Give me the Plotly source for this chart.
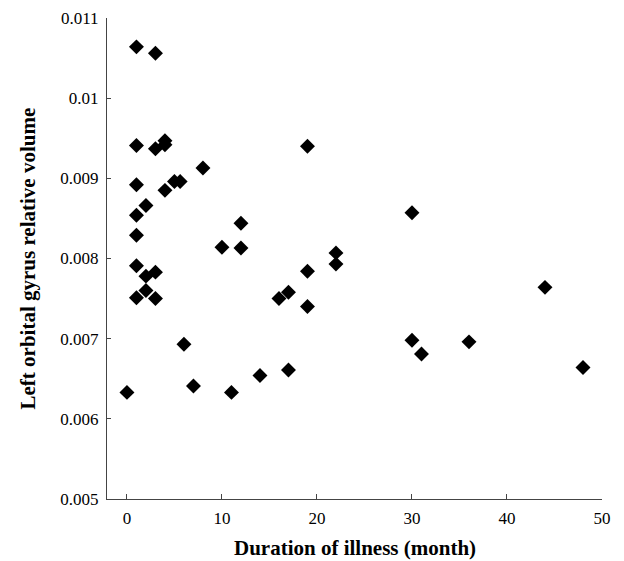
import plotly.graph_objects as go

duration = [1, 3, 1, 3, 4, 4, 1, 4, 5, 5.6, 8, 2, 1, 1, 1, 2, 3, 2, 1, 3,
            10, 12, 12, 6, 7, 0, 11, 14, 19, 30, 22, 22, 19, 17, 16, 19,
            30, 31, 17, 44, 36, 48]
volume = [0.01064, 0.01056, 0.00941, 0.00937, 0.00947, 0.00942, 0.00892,
          0.00885, 0.00896, 0.00896, 0.00913, 0.00866, 0.00854, 0.00829,
          0.00791, 0.00778, 0.00783, 0.00760, 0.00751, 0.00750, 0.00814,
          0.00844, 0.00813, 0.00693, 0.00641, 0.00633, 0.00633, 0.00654,
          0.00940, 0.00857, 0.00807, 0.00793, 0.00784, 0.00758, 0.00750,
          0.00740, 0.00698, 0.00681, 0.00661, 0.00764, 0.00696, 0.00664]

x_ticks = [0, 10, 20, 30, 40, 50]
y_ticks = [0.005, 0.006, 0.007, 0.008, 0.009, 0.01, 0.011]
y_tick_labels = ["0.005", "0.006", "0.007", "0.008", "0.009", "0.01", "0.011"]
x_title = "Duration of illness (month)"
y_title = "Left orbital gyrus relative volume"

font_family = "Liberation Serif"

fig = go.Figure()
fig.add_trace(go.Scatter(
    x=duration, y=volume, mode="markers",
    marker=dict(symbol="diamond", size=11.5, color="black",
                line=dict(width=0)),
    showlegend=False,
))

# page body has an 8px margin, so the figure is 8px smaller than the window
fig.update_layout(
    width=616, height=553,
    margin=dict(l=99, r=22, t=10, b=62),
    paper_bgcolor="white", plot_bgcolor="white",
    font=dict(family=font_family, color="black", size=17),
)
fig.update_xaxes(
    range=[-2.1, 50], tickvals=x_ticks, ticks="inside", ticklen=5,
    tickcolor="#444", showline=True, linecolor="#444", linewidth=1,
    showgrid=False, zeroline=False, ticklabelstandoff=4,
    ticklabeloverflow="allow",
    tickfont=dict(size=17, family=font_family),
    automargin=False,
)
fig.update_yaxes(
    range=[0.005, 0.011], tickvals=y_ticks, ticktext=y_tick_labels,
    ticks="inside", ticklen=4, tickcolor="#444",
    showline=True, linecolor="#444", linewidth=1,
    showgrid=False, zeroline=False, ticklabelstandoff=4,
    ticklabeloverflow="allow",
    tickfont=dict(size=17, family=font_family),
    automargin=False,
)
fig.add_annotation(
    text="<b>" + x_title + "</b>", xref="paper", yref="paper",
    x=0.5, y=0, xanchor="center", yanchor="middle", yshift=-49,
    showarrow=False, font=dict(size=21, family=font_family, color="black"),
)
fig.add_annotation(
    text="<b>" + y_title + "</b>", xref="paper", yref="paper",
    x=0, y=0.5, xanchor="center", yanchor="middle", xshift=-80,
    textangle=-90, showarrow=False,
    font=dict(size=21, family=font_family, color="black"),
)

fig.write_html("out.html")
